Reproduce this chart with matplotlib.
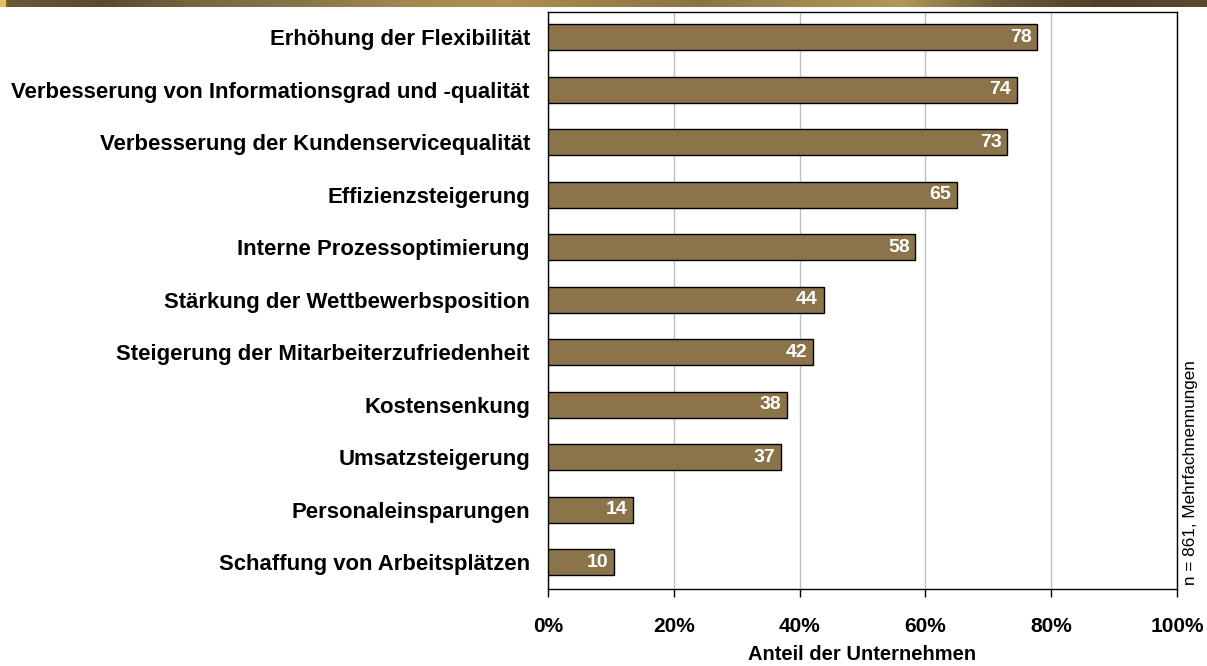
import numpy as np
import matplotlib.pyplot as plt
from matplotlib.colors import LinearSegmentedColormap

plt.rcParams['font.family'] = ['Liberation Sans', 'DejaVu Sans']

kategorien = [
    "Erhöhung der Flexibilität",
    "Verbesserung von Informationsgrad und -qualität",
    "Verbesserung der Kundenservicequalität",
    "Effizienzsteigerung",
    "Interne Prozessoptimierung",
    "Stärkung der Wettbewerbsposition",
    "Steigerung der Mitarbeiterzufriedenheit",
    "Kostensenkung",
    "Umsatzsteigerung",
    "Personaleinsparungen",
    "Schaffung von Arbeitsplätzen",
]
werte = [78, 74, 73, 65, 58, 44, 42, 38, 37, 14, 10]
# Balkenlänge leicht abweichend vom gerundeten Label
anteile = [77.8, 74.5, 73.0, 65.0, 58.4, 43.8, 42.1, 38.0, 37.0, 13.5, 10.5]
ticks = [0, 20, 40, 60, 80, 100]

fig = plt.figure(figsize=(12.07, 6.66), dpi=100)

# Farbbalken oben
band = fig.add_axes([0, 1 - 7 / 666, 1, 7 / 666])
band_farben = ["#6a5a38", "#5a4a2e", "#7a6840", "#8a7548", "#a08850",
               "#b09050", "#9a8048", "#8a7446", "#a08a50", "#b09858", "#6a5836",
               "#504028", "#5a4a30"]
cmap = LinearSegmentedColormap.from_list("band", band_farben)
band.imshow(np.linspace(0, 1, 400).reshape(1, -1), aspect="auto", cmap=cmap,
            extent=(0, 1, 0, 1))
band.add_patch(plt.Rectangle((0, 0), 5 / 1207, 1, color="#e0c060"))
band.set_xlim(0, 1)
band.axis("off")

ax = fig.add_axes([548 / 1207, 1 - 589 / 666, 629 / 1207, 577 / 666])
y = np.arange(len(kategorien))
ax.barh(y, anteile, height=0.5, color="#8b744a", edgecolor="black", linewidth=1, zorder=3)
for yi, a, w in zip(y, anteile, werte):
    ax.text(a - 0.9, yi, str(w), ha="right", va="center", color="white",
            fontsize=14, fontweight="bold", zorder=4)

ax.set_xlim(0, 100)
ax.set_ylim(len(kategorien) - 0.49, -0.48)
ax.set_yticks(y)
ax.set_yticklabels(kategorien, fontsize=15.9, fontweight="bold")
ax.tick_params(axis="y", length=0, pad=13)
ax.set_xticks(ticks)
ax.set_xticklabels([f"{t}%" for t in ticks], fontsize=15, fontweight="bold")
ax.tick_params(axis="x", length=6, width=1, pad=14)
ax.grid(axis="x", color="#c0c0c0", linewidth=1, zorder=0)
for s in ax.spines.values():
    s.set_color("black")
    s.set_linewidth(1)
ax.set_xlabel("Anteil der Unternehmen", fontsize=14.5, fontweight="bold", labelpad=7)

fig.text(1190 / 1207, 1 - 585 / 666, "n = 861, Mehrfachnennungen", rotation=90,
         ha="center", va="bottom", fontsize=12.3)

fig.savefig("out.png", dpi=100)
